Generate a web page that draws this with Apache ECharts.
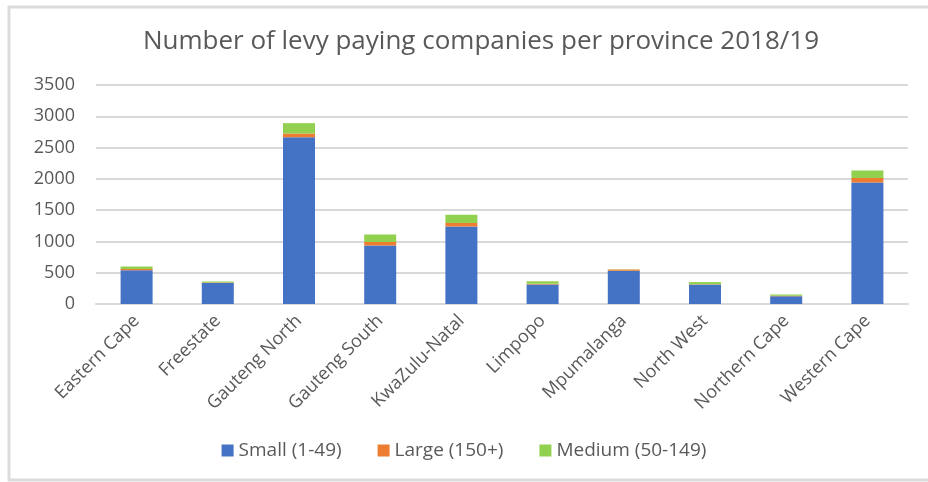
<!DOCTYPE html>
<html>
<head>
<meta charset="utf-8">
<script src="https://cdn.jsdelivr.net/npm/echarts@6/dist/echarts.min.js"></script>
<style>
  html, body { margin: 0; padding: 0; background: #fff; }
  #chart { width: 928px; height: 482px; }
</style>
</head>
<body>
<div id="chart"></div>
<script>
// Levy paying companies per province, 2018/19, split by company size
const provinces = ['Eastern Cape', 'Freestate', 'Gauteng North', 'Gauteng South', 'KwaZulu-Natal',
                   'Limpopo', 'Mpumalanga', 'North West', 'Northern Cape', 'Western Cape'];
const small  = [540, 335, 2665, 935, 1240, 310, 530, 310, 125, 1940];
const large  = [20, 8, 60, 55, 55, 15, 20, 5, 5, 75];
const medium = [40, 15, 165, 120, 130, 40, 5, 35, 20, 120];
const yTicks = [0, 500, 1000, 1500, 2000, 2500, 3000, 3500];

const textColor = '#595959';
const gridColor = '#d9d9d9';
const font = 'Open Sans';

const chart = echarts.init(document.getElementById('chart'));

function stack(name, data, color) {
  return {
    name: name,
    type: 'bar',
    stack: 'total',
    data: data,
    barWidth: 32,
    itemStyle: { color: color },
    emphasis: { disabled: true }
  };
}

chart.setOption({
  animation: false,
  backgroundColor: '#fff',
  graphic: [{
    type: 'rect',
    shape: { x: 9, y: 7, width: 930, height: 473 },
    style: { fill: 'none', stroke: '#dcdcdc', lineWidth: 3 },
    silent: true
  }],
  title: {
    text: 'Number of levy paying companies per province 2018/19',
    left: 476,
    textAlign: 'center',
    top: 24,
    textStyle: { fontFamily: font, fontSize: 26, fontWeight: 'normal', color: textColor }
  },
  legend: {
    bottom: 17,
    left: 'center',
    itemWidth: 12,
    itemHeight: 12,
    itemGap: 36,
    icon: 'rect',
    textStyle: { fontFamily: font, fontSize: 19, color: textColor },
    data: ['Small (1-49)', 'Large (150+)', 'Medium (50-149)']
  },
  grid: { left: 96, right: 20, top: 85, bottom: 178, containLabel: false },
  xAxis: {
    type: 'category',
    data: provinces,
    axisLine: { lineStyle: { color: gridColor, width: 2 } },
    axisTick: { show: false },
    axisLabel: {
      rotate: 45,
      interval: 0,
      margin: 14,
      fontFamily: font,
      fontSize: 18,
      color: textColor
    }
  },
  yAxis: {
    type: 'value',
    min: yTicks[0],
    max: yTicks[yTicks.length - 1],
    interval: 500,
    axisLine: { show: false },
    axisTick: { show: false },
    splitLine: { lineStyle: { color: gridColor, width: 2 } },
    axisLabel: {
      fontFamily: font,
      fontSize: 18,
      color: textColor,
      margin: 21,
      formatter: function (v) { return String(v); }
    }
  },
  series: [
    stack('Small (1-49)', small, '#4472C4'),
    stack('Large (150+)', large, '#ED7D31'),
    stack('Medium (50-149)', medium, '#92D050')
  ]
});
</script>
</body>
</html>
